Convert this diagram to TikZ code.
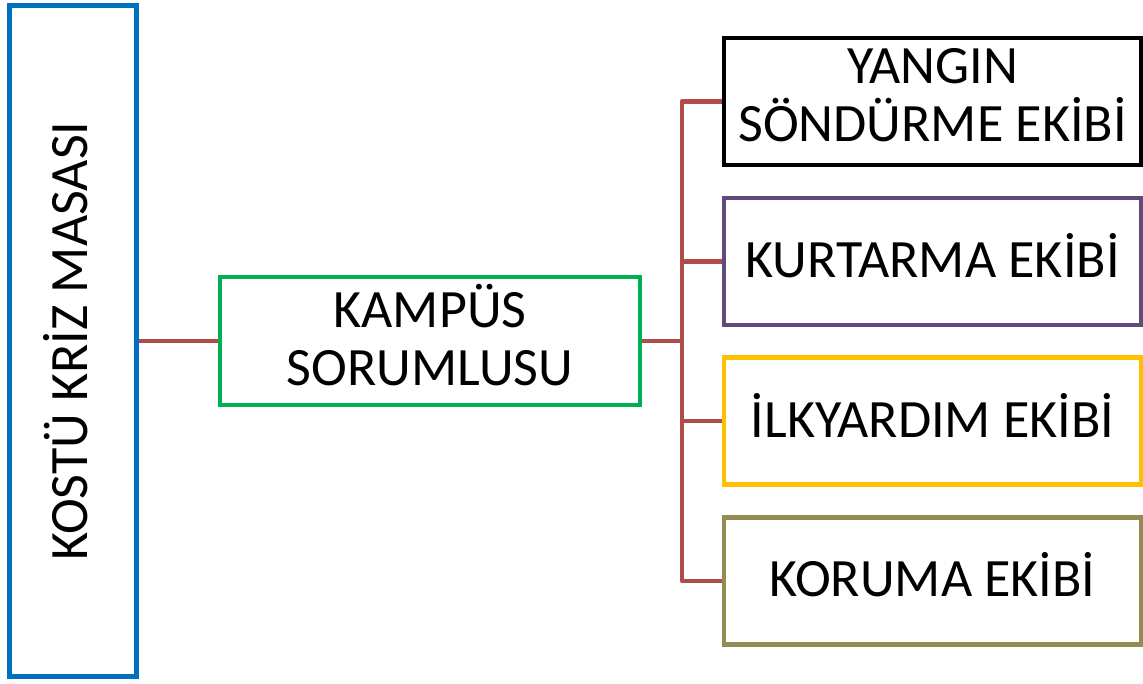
\documentclass[tikz,border=0pt]{standalone}
\usepackage{fontspec}
\setmainfont{Carlito}
\usetikzlibrary{positioning}
\definecolor{masablue}{HTML}{0070C0}
\definecolor{kampusgreen}{HTML}{00B050}
\definecolor{linkred}{HTML}{B04C4A}
\definecolor{teampurple}{HTML}{604A7B}
\definecolor{teamyellow}{HTML}{FFC000}
\definecolor{teamolive}{HTML}{948A54}
\tikzset{
  unit/.style={draw, line width=4.5pt, inner sep=0pt},
  unittext/.style={inner sep=0pt, align=center, yshift=6pt,
    font=\fontsize{54}{58}\selectfont},
  team/.style={unit, minimum width=417pt, minimum height=127pt},
  link/.style={draw=linkred, line width=4.5pt, line join=round}
}
\begin{document}
\begin{tikzpicture}[x=1pt, y=-1pt]
        \useasboundingbox (0,0) rectangle (1143,684);
        \node[unit, draw=masablue, minimum width=127pt, minimum height=671pt,
          label={[unittext, yshift=-6pt, rotate=90, yshift=7pt]center:KOSTÜ KRİZ MASASI}] (masa) at (73,341) {};
        \node[unit, draw=kampusgreen, minimum width=420pt, minimum height=128pt,
          label={[unittext]center:{KAMPÜS\\SORUMLUSU}}] (kampus) at (430,341) {};

        \node[team, draw=black, label={[unittext]center:{YANGIN\\SÖNDÜRME EKİBİ}}] (yangin) at (932.5,101.5) {};
        \node[team, draw=teampurple, label={[unittext]center:KURTARMA EKİBİ}] (kurtarma) at (932.5,261.5) {};
        \node[team, draw=teamyellow, label={[unittext]center:İLKYARDIM EKİBİ}] (ilkyardim) at (932.5,421) {};
        \node[team, draw=teamolive, label={[unittext]center:KORUMA EKİBİ}] (koruma) at (932.5,581) {};

        \coordinate (bus) at (682,341);
        \path[link] (masa.east) -- (kampus.west);
        \path[link] (kampus.east) -- (bus);
        \path[link] (yangin.west) -| (bus |- koruma.west) -- (koruma.west);
        \path[link] (bus |- kurtarma.west) -- (kurtarma.west);
        \path[link] (bus |- ilkyardim.west) -- (ilkyardim.west);
    \end{tikzpicture}
\end{document}
